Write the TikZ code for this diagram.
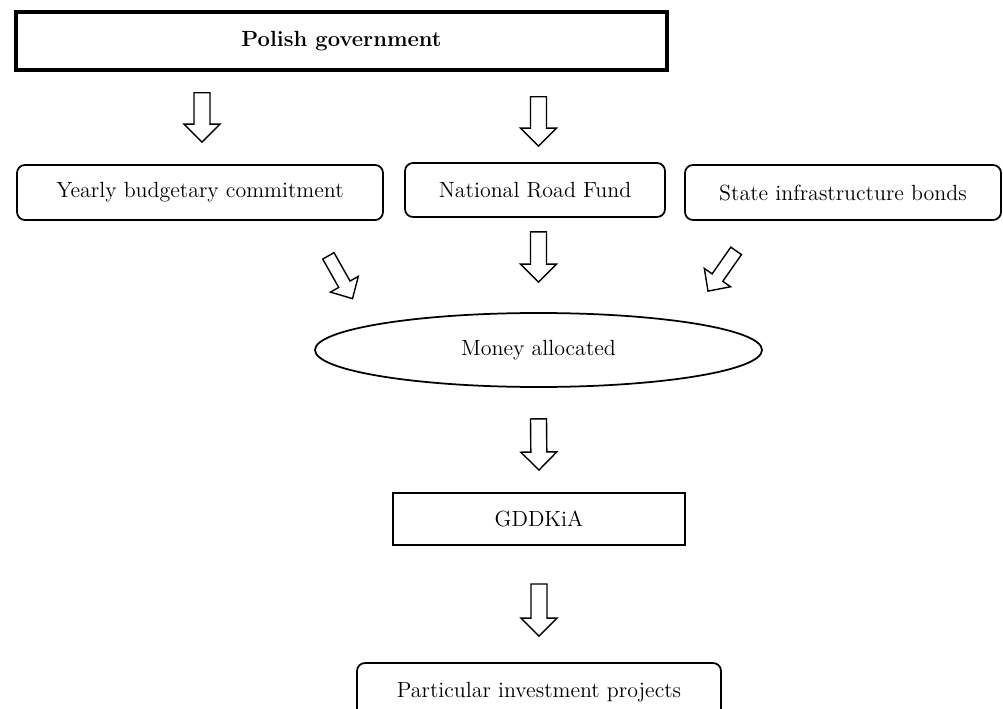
\documentclass[tikz,border=0pt]{standalone}
\usetikzlibrary{calc}
\usetikzlibrary{shapes.geometric}
\tikzset{
    arrow shaft/.initial=0.16cm,
    arrow head/.initial=0.36cm,
    arrow len/.initial=0.36cm,
    hollow/.style={draw, line width=0.8pt, line join=miter, to path={
        let \p1=(\tikztostart), \p2=(\tikztotarget),
            \n1={atan2(\y2-\y1,\x2-\x1)},
            \p3=($(\p2)!\pgfkeysvalueof{/tikz/arrow len}!(\p1)$) in
        ($(\p1)+({\n1+90}:\pgfkeysvalueof{/tikz/arrow shaft})$)
        -- ($(\p3)+({\n1+90}:\pgfkeysvalueof{/tikz/arrow shaft})$)
        -- ($(\p3)+({\n1+90}:\pgfkeysvalueof{/tikz/arrow head})$)
        -- (\p2)
        -- ($(\p3)+({\n1-90}:\pgfkeysvalueof{/tikz/arrow head})$)
        -- ($(\p3)+({\n1-90}:\pgfkeysvalueof{/tikz/arrow shaft})$)
        -- ($(\p1)+({\n1-90}:\pgfkeysvalueof{/tikz/arrow shaft})$) -- cycle}},
    govbox/.style={draw, line width=2pt, minimum width=13.02cm, minimum height=1.16cm, inner sep=0pt},
    srcbox/.style={draw, line width=1pt, rounded corners=0.16cm, minimum height=1.1cm, inner sep=0pt},
    plainbox/.style={draw, line width=1.1pt, minimum width=5.84cm, minimum height=1.04cm, inner sep=0pt}
}

\begin{document}
\begin{tikzpicture}[font=\fontsize{12.5pt}{15pt}\selectfont]
    \useasboundingbox (0, 0) rectangle (20.06, -14.18);
    \node[govbox](gov) at (6.83, -0.82){\textbf{Polish government}};
    \node[srcbox, minimum width=7.32cm](ybc) at (4.0, -3.85){Yearly budgetary commitment};
    \node[srcbox, minimum width=5.2cm, minimum height=1.08cm](nrf) at (10.7, -3.8){National Road Fund};
    \node[srcbox, minimum width=6.32cm](sib) at (16.86, -3.85){State infrastructure bonds};
    \node[ellipse, draw, line width=1pt, minimum width=8.94cm, minimum height=1.48cm, inner sep=0pt](money) at (10.77, -7.0){Money allocated};
    \node[plainbox](gddkia) at (10.78, -10.38){GDDKiA};
    \node[srcbox, minimum width=7.28cm, minimum height=1.16cm](proj) at (10.78, -13.84){Particular investment projects};

    \draw[hollow]($(gov.south -| ybc.north)+(0.04, -0.42)$) to ($(ybc.north)+(0.04, 0.44)$);
    \draw[hollow]($(gov.south -| money.north)+(0, -0.5)$) to ($(nrf.north -| money.north)+(0, 0.32)$);
    \draw[hollow, arrow shaft=0.13cm, arrow head=0.32cm, arrow len=0.33cm]($(ybc.south east)+(-1.11, -0.7)$) to ($(money.north)+(-3.72, 0.27)$);
    \draw[hollow]($(nrf.south -| money.north)+(0, -0.28)$) to ($(money.north)+(0, 0.6)$);
    \draw[hollow, arrow shaft=0.13cm, arrow head=0.32cm, arrow len=0.33cm]($(sib.south west)+(1.04, -0.6)$) to ($(money.north)+(3.39, 0.42)$);
    \draw[hollow]($(money.south)+(0, -0.62)$) to ($(gddkia.north)+(0, 0.44)$);
    \draw[hollow]($(gddkia.south)+(0, -0.76)$) to ($(proj.north)+(0, 0.52)$);
\end{tikzpicture}
\end{document}
